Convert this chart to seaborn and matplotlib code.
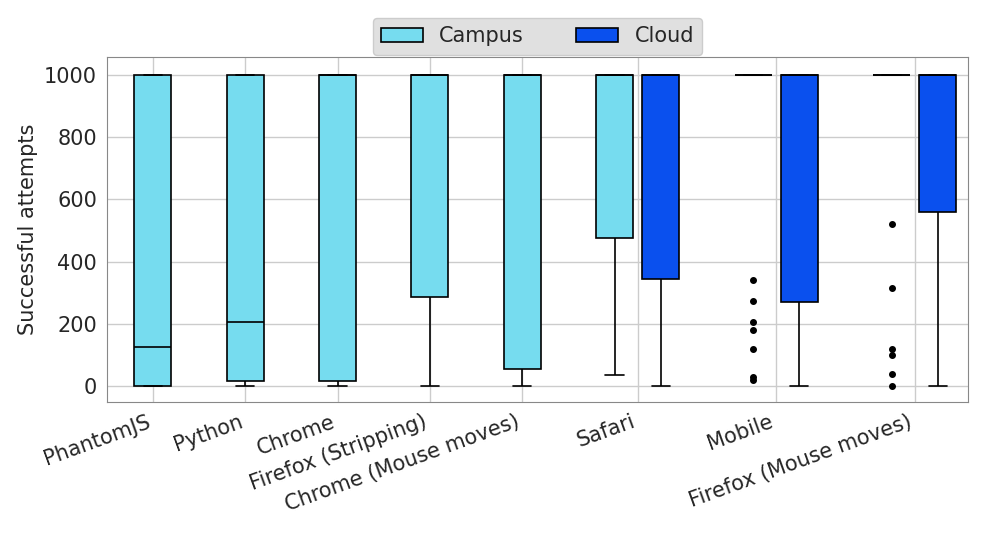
import numpy as np
import pandas as pd
import matplotlib
matplotlib.use("Agg")
import matplotlib.pyplot as plt
import seaborn as sns

TICK_LABELS = ["PhantomJS", "Python", "Chrome", "Firefox (Stripping)", "Chrome (Mouse moves)",
               "Safari", "Mobile", "Firefox (Mouse moves)"]

# samples of 9 values: index 2 = Q1, 4 = median, 6 = Q3
CAMPUS = {
    "PhantomJS": [0, 0, 0, 60, 125, 600, 1000, 1000, 1000],
    "Python": [0, 5, 15, 100, 205, 600, 1000, 1000, 1000],
    "Chrome": [0, 5, 15, 500, 1000, 1000, 1000, 1000, 1000],
    "Firefox (Stripping)": [0, 100, 285, 700, 1000, 1000, 1000, 1000, 1000],
    "Chrome (Mouse moves)": [0, 20, 55, 600, 1000, 1000, 1000, 1000, 1000],
    "Safari": [35, 300, 475, 800, 1000, 1000, 1000, 1000, 1000],
    "Mobile": [20, 30, 120, 180, 205, 275, 340] + [1000] * 25,
    "Firefox (Mouse moves)": [0, 40, 100, 120, 315, 520] + [1000] * 22,
}
CLOUD = {
    "Safari": [0, 150, 345, 800, 1000, 1000, 1000, 1000, 1000],
    "Mobile": [0, 100, 270, 700, 1000, 1000, 1000, 1000, 1000],
    "Firefox (Mouse moves)": [0, 300, 560, 900, 1000, 1000, 1000, 1000, 1000],
}

# x positions of boxes (layout)
CAMPUS_POS = [0, 1, 2, 3, 4, 5, 6.5, 8]
CLOUD_POS = [5.5, 7, 8.5]
TICK_POS = [0, 1, 2, 3, 4, 5.25, 6.75, 8.25]

CAMPUS_COLOR = "#76dcef"
CLOUD_COLOR = "#0a50ee"

rows = []
for pos, vals in zip(CAMPUS_POS, CAMPUS.values()):
    rows += [(pos, "Campus", v) for v in vals]
for pos, vals in zip(CLOUD_POS, CLOUD.values()):
    rows += [(pos, "Cloud", v) for v in vals]
df = pd.DataFrame(rows, columns=["pos", "loc", "val"])

sns.set_style("whitegrid")
fig, ax = plt.subplots(figsize=(9.88, 5.33), dpi=100)

sns.boxplot(data=df, x="pos", y="val", hue="loc", hue_order=["Campus", "Cloud"],
            palette=[CAMPUS_COLOR, CLOUD_COLOR], native_scale=True, dodge=False,
            width=0.8, saturation=1, linewidth=1.2, linecolor="black", ax=ax,
            flierprops=dict(marker="o", markerfacecolor="black", markeredgecolor="black", markersize=4))

ax.grid(True, color="#cccccc", linewidth=1)
ax.set_axisbelow(True)
for s in ax.spines.values():
    s.set_color("#888888")
ax.set_xlabel("")
ax.set_ylabel("Successful attempts", fontsize=15)
ax.set_yticks([0, 200, 400, 600, 800, 1000])
ax.set_ylim(-51, 1058)
ax.set_xlim(-0.5, 8.83)
ax.tick_params(axis="y", labelsize=15)
ax.set_xticks(TICK_POS)
ax.set_xticklabels(TICK_LABELS, rotation=20, ha="right", fontsize=15)

ax.legend(loc="center", bbox_to_anchor=(0.5, 1.06), ncol=2, fontsize=15,
          facecolor="#e0e0e0", edgecolor="#cccccc", framealpha=1, columnspacing=2.5)

fig.subplots_adjust(left=0.108, right=0.98, top=0.893, bottom=0.246)
fig.savefig("out.png", dpi=100)
